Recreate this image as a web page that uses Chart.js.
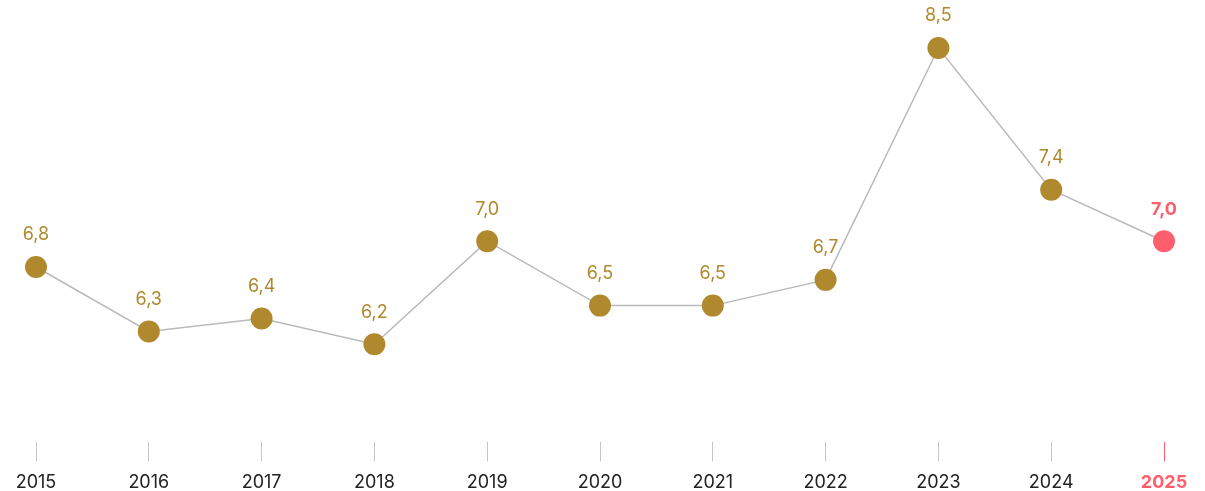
<!DOCTYPE html>
<html>
<head>
<meta charset="utf-8">
<script src="https://cdn.jsdelivr.net/npm/chart.js@4/dist/chart.umd.min.js"></script>
<style>
  html, body { margin: 0; padding: 0; background: #fff; }
  #wrap { width: 1205px; height: 491px; position: relative; }
</style>
</head>
<body>
<div id="wrap"><canvas id="c" width="1205" height="491"></canvas></div>
<script>
const years = ['2015', '2016', '2017', '2018', '2019', '2020', '2021', '2022', '2023', '2024', '2025'];
const values = [6.8, 6.3, 6.4, 6.2, 7.0, 6.5, 6.5, 6.7, 8.5, 7.4, 7.0];

const GOLD = '#b0892e';
const PINK = '#ff5f6d';
const LINE = '#b9b9b9';
const FONT = 'Inter, "Noto Sans", sans-serif';
const lastIdx = years.length - 1;

const pointColors = values.map((v, i) => i === lastIdx ? PINK : GOLD);
const fmt = v => v.toFixed(1).replace('.', ',');

// value labels above each point, comma as decimal separator
const valueLabels = {
  id: 'valueLabels',
  afterDatasetsDraw(chart) {
    const ctx = chart.ctx;
    const meta = chart.getDatasetMeta(0);
    ctx.save();
    ctx.textAlign = 'center';
    ctx.textBaseline = 'middle';
    meta.data.forEach((pt, i) => {
      const last = i === lastIdx;
      ctx.font = (last ? '700 ' : '400 ') + '18px ' + FONT;
      ctx.fillStyle = last ? PINK : GOLD;
      ctx.fillText(fmt(values[i]), pt.x, pt.y - 32);
    });
    ctx.restore();
  }
};

new Chart(document.getElementById('c'), {
  type: 'line',
  data: {
    labels: years,
    datasets: [{
      data: values,
      borderColor: LINE,
      borderWidth: 1.5,
      tension: 0,
      pointRadius: 11,
      pointHoverRadius: 11,
      pointBorderWidth: 0,
      pointBackgroundColor: pointColors,
      pointBorderColor: pointColors
    }]
  },
  options: {
    responsive: false,
    animation: false,
    events: [],
    layout: { padding: { left: 36, right: 41, top: 0, bottom: -12 } },
    plugins: { legend: { display: false }, tooltip: { enabled: false } },
    scales: {
      x: {
        offset: false,
        border: { display: false },
        grid: {
          drawOnChartArea: false,
          drawTicks: true,
          tickLength: 19,
          lineWidth: 1,
          color: ctx => ctx.index === lastIdx ? PINK : '#c4c4c4'
        },
        ticks: {
          padding: 10,
          maxRotation: 0,
          autoSkip: false,
          font: ctx => ({ family: FONT, size: 18, weight: ctx.index === lastIdx ? '700' : '400' }),
          color: ctx => ctx.index === lastIdx ? PINK : '#222'
        }
      },
      y: {
        display: false,
        min: 5.438,
        max: 8.7875
      }
    }
  },
  plugins: [valueLabels]
});
</script>
</body>
</html>
